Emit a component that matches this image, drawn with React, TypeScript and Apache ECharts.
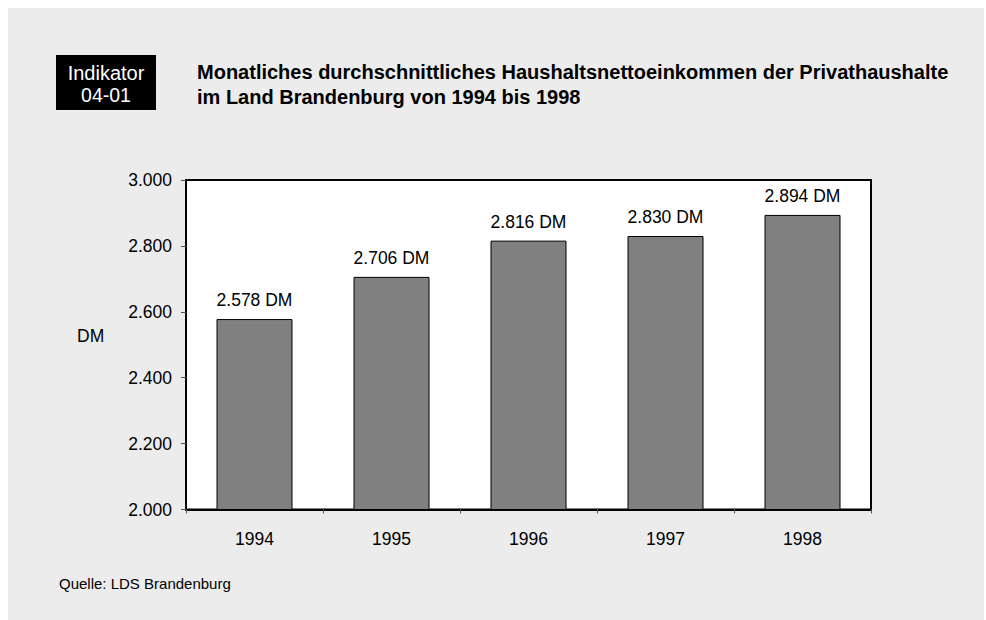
import React, { useEffect, useRef } from "react";
import * as echarts from "echarts";

const years = ["1994", "1995", "1996", "1997", "1998"];
const incomes = [2578, 2706, 2816, 2830, 2894];
const titleLines = [
  "Monatliches durchschnittliches Haushaltsnettoeinkommen der Privathaushalte",
  "im Land Brandenburg von 1994 bis 1998",
];
const indicatorLines = ["Indikator", "04-01"];
const unitLabel = "DM";
const sourceText = "Quelle: LDS Brandenburg";
const yMin = 2000;
const yMax = 3000;
const yStep = 200;

const FONT = "'Liberation Sans', Arial, Helvetica, sans-serif";
const fmt = (v: number) => {
  const s = Math.round(v).toString();
  return s.replace(/\B(?=(\d{3})+(?!\d))/g, ".");
};

export default function App() {
  const ref = useRef<HTMLDivElement>(null);
  useEffect(() => {
    document.documentElement.style.overflow = "hidden";
    document.body.style.margin = "8px 0 0 8px";
    const chart = echarts.init(ref.current!, null, { renderer: "svg" });
    chart.setOption({
      animation: false,
      backgroundColor: "#ececec",
      textStyle: { fontFamily: FONT },
      grid: {
        left: 178,
        top: 172,
        width: 685,
        height: 329.5,
        show: true,
        backgroundColor: "#ffffff",
        borderColor: "#000000",
        borderWidth: 2,
      },
      xAxis: {
        type: "category",
        data: years,
        axisLine: { show: true, lineStyle: { color: "#000", width: 2 } },
        axisTick: { show: true, alignWithLabel: false, length: 4, lineStyle: { color: "#555" } },
        axisLabel: { color: "#000", fontSize: 17.5, fontFamily: FONT, margin: 20 },
        splitLine: { show: false },
      },
      yAxis: {
        type: "value",
        min: yMin,
        max: yMax,
        interval: yStep,
        axisLine: { show: true, lineStyle: { color: "#000", width: 2 } },
        axisTick: { show: true, length: 5, lineStyle: { color: "#555" } },
        axisLabel: {
          color: "#000",
          fontSize: 17.5,
          fontFamily: FONT,
          margin: 14,
          formatter: (v: number) => fmt(v),
        },
        splitLine: { show: false },
      },
      series: [
        {
          type: "bar",
          data: incomes,
          barWidth: 76,
          itemStyle: { color: "#808080", borderColor: "#000", borderWidth: 1 },
          label: {
            show: true,
            position: "top",
            distance: 10,
            color: "#000",
            fontSize: 17.5,
            fontFamily: FONT,
            formatter: (p: any) => fmt(p.value) + " DM",
          },
        },
      ],
      graphic: [
        {
          type: "rect",
          left: 48,
          top: 47,
          shape: { width: 100, height: 55 },
          style: { fill: "#000" },
        },
        {
          type: "text",
          x: 98,
          y: 65,
          style: {
            text: indicatorLines[0],
            fill: "#fff",
            font: `20px ${FONT}`,
            align: "center",
            verticalAlign: "middle",
          },
        },
        {
          type: "text",
          x: 98,
          y: 87,
          style: {
            text: indicatorLines[1],
            fill: "#fff",
            font: `19.5px ${FONT}`,
            align: "center",
            verticalAlign: "middle",
          },
        },
        {
          type: "text",
          x: 189,
          y: 64,
          style: {
            text: titleLines[0],
            fill: "#000",
            font: `bold 20px ${FONT}`,
            align: "left",
            verticalAlign: "middle",
          },
        },
        {
          type: "text",
          x: 189,
          y: 89,
          style: {
            text: titleLines[1],
            fill: "#000",
            font: `bold 20px ${FONT}`,
            align: "left",
            verticalAlign: "middle",
          },
        },
        {
          type: "text",
          x: 69,
          y: 328,
          style: {
            text: unitLabel,
            fill: "#000",
            font: `17.5px ${FONT}`,
            align: "left",
            verticalAlign: "middle",
          },
        },
        {
          type: "text",
          x: 51,
          y: 575,
          style: {
            text: sourceText,
            fill: "#000",
            font: `15px ${FONT}`,
            align: "left",
            verticalAlign: "middle",
          },
        },
      ],
    });
    return () => chart.dispose();
  }, []);
  return <div ref={ref} style={{ width: 976, height: 612 }} />;
}
